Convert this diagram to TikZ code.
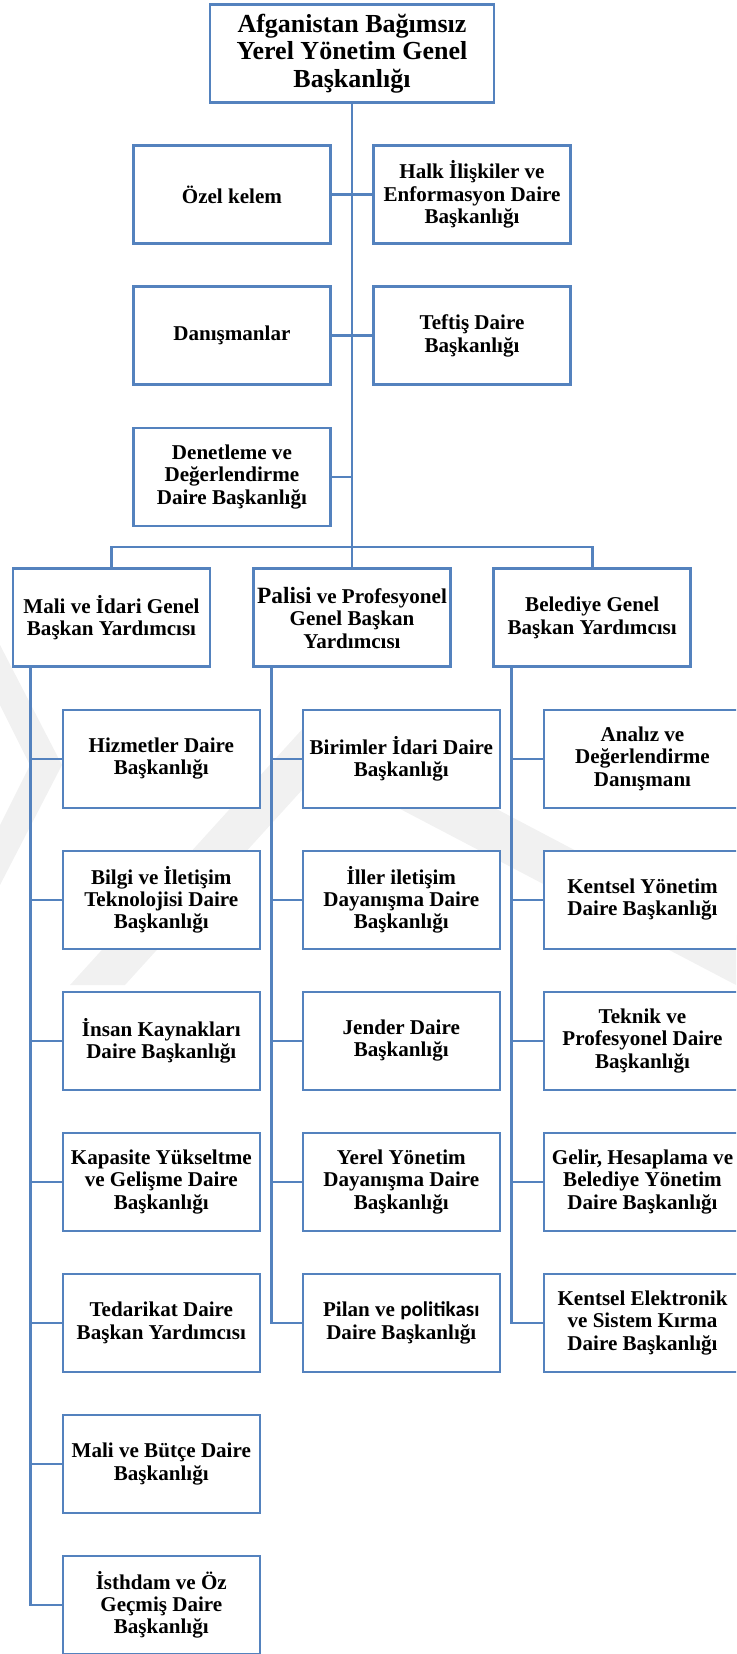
\documentclass[tikz,border=0pt]{standalone}
\usepackage{fontspec}
\setmainfont{Liberation Serif}
\newfontfamily\calfont{Carlito}
\newdimen\pxu \pxu=0.75pt
\definecolor{lineblue}{RGB}{84,130,190}
\definecolor{wmgray}{RGB}{241,241,241}
\begin{document}
\begin{tikzpicture}[x=0.75pt,y=-0.75pt,
  box/.style={draw=lineblue, line width=1.95pt, fill=white,
    minimum width=197\pxu, minimum height=98\pxu, align=center, inner sep=1pt,
    font=\bfseries\fontsize{15.8}{16.8}\selectfont},
  topbox/.style={box, minimum width=284\pxu,
    font=\bfseries\fontsize{19.5}{20.8}\selectfont},
  conn/.style={draw=lineblue, line width=1.95pt},
  wm/.style={fill=wmgray}]
\useasboundingbox (0,0) rectangle (736,1654);
\clip (0,0) rectangle (736,1654);
% watermark
\fill[wm] (0,645) -- (62,765) -- (0,885) -- (0,825) -- (30,765) -- (0,705) -- cycle;
\fill[wm] (70,985) -- (316,714) -- (736,935) -- (736,985) -- (322,768) -- (125,985) -- cycle;
% top
\node[topbox] (top) at (352,53.6) {Afganistan Bağımsız\\Yerel Yönetim Genel\\Başkanlığı};
\node[box] (ozel) at (231.9,194.6) {Özel kelem};
\node[box] (halk) at (472,194.6) {Halk İlişkiler ve\\Enformasyon Daire\\Başkanlığı};
\node[box] (dan) at (231.9,335.7) {Danışmanlar};
\node[box] (tef) at (472,335.7) {Teftiş Daire\\Başkanlığı};
\node[box] (den) at (231.9,476.8) {Denetleme ve\\Değerlendirme\\Daire Başkanlığı};
\coordinate (bus) at (352,547.1);
% level 2
\node[box] (mali) at (111.5,617.7) {Mali ve İdari Genel\\Başkan Yardımcısı};
\node[box] (pal) at (352,617.7) {{\fontsize{17.5}{16.8}\selectfont Palisi} ve Profesyonel\\Genel Başkan\\Yardımcısı};
\node[box] (bel) at (592.2,617.7) {Belediye Genel\\Başkan Yardımcısı};
% left column
\node[box] (l1) at (161.3,758.8) {Hizmetler Daire\\Başkanlığı};
\node[box] (l2) at (161.3,899.8) {Bilgi ve İletişim\\Teknolojisi Daire\\Başkanlığı};
\node[box] (l3) at (161.3,1040.8) {İnsan Kaynakları\\Daire Başkanlığı};
\node[box] (l4) at (161.3,1181.8) {Kapasite Yükseltme\\ve Gelişme Daire\\Başkanlığı};
\node[box] (l5) at (161.3,1322.8) {Tedarikat Daire\\Başkan Yardımcısı};
\node[box] (l6) at (161.3,1463.8) {Mali ve Bütçe Daire\\Başkanlığı};
\node[box] (l7) at (161.3,1604.8) {İsthdam ve Öz\\Geçmiş Daire\\Başkanlığı};
% middle column
\node[box] (m1) at (401.3,758.8) {Birimler İdari Daire\\Başkanlığı};
\node[box] (m2) at (401.3,899.8) {İller iletişim\\Dayanışma Daire\\Başkanlığı};
\node[box] (m3) at (401.3,1040.8) {Jender Daire\\Başkanlığı};
\node[box] (m4) at (401.3,1181.8) {Yerel Yönetim\\Dayanışma Daire\\Başkanlığı};
\node[box] (m5) at (401.3,1322.8) {Pilan ve {\calfont politikası}\\Daire Başkanlığı};
% right column
\node[box] (r1) at (642.5,758.8) {Analız ve\\Değerlendirme\\Danışmanı};
\node[box] (r2) at (642.5,899.8) {Kentsel Yönetim\\Daire Başkanlığı};
\node[box] (r3) at (642.5,1040.8) {Teknik ve\\Profesyonel Daire\\Başkanlığı};
\node[box] (r4) at (642.5,1181.8) {Gelir, Hesaplama ve\\Belediye Yönetim\\Daire Başkanlığı};
\node[box] (r5) at (642.5,1322.8) {Kentsel Elektronik\\ve Sistem Kırma\\Daire Başkanlığı};
% connectors upper part
\draw[conn] (top.south) -- (bus);
\draw[conn] (ozel.east) -- (ozel.east -| top.south);
\draw[conn] (halk.west) -- (halk.west -| top.south);
\draw[conn] (dan.east) -- (dan.east -| top.south);
\draw[conn] (tef.west) -- (tef.west -| top.south);
\draw[conn] (den.east) -- (den.east -| top.south);
\draw[conn] (mali.north) |- (bus) -| (bel.north);
\draw[conn] (bus) -- (pal.north);
% spines
\coordinate (ms) at ([xshift=19\pxu]mali.south west);
\coordinate (ps) at ([xshift=19\pxu]pal.south west);
\coordinate (bs) at ([xshift=19\pxu]bel.south west);
\draw[conn] (ms) |- (l7.west);
\draw[conn] (ps) |- (m5.west);
\draw[conn] (bs) |- (r5.west);
\foreach \n in {l1,l2,l3,l4,l5,l6}{\draw[conn] (\n.west) -- (\n.west -| ms);}
\foreach \n in {m1,m2,m3,m4}{\draw[conn] (\n.west) -- (\n.west -| ps);}
\foreach \n in {r1,r2,r3,r4}{\draw[conn] (\n.west) -- (\n.west -| bs);}
\end{tikzpicture}
\end{document}
